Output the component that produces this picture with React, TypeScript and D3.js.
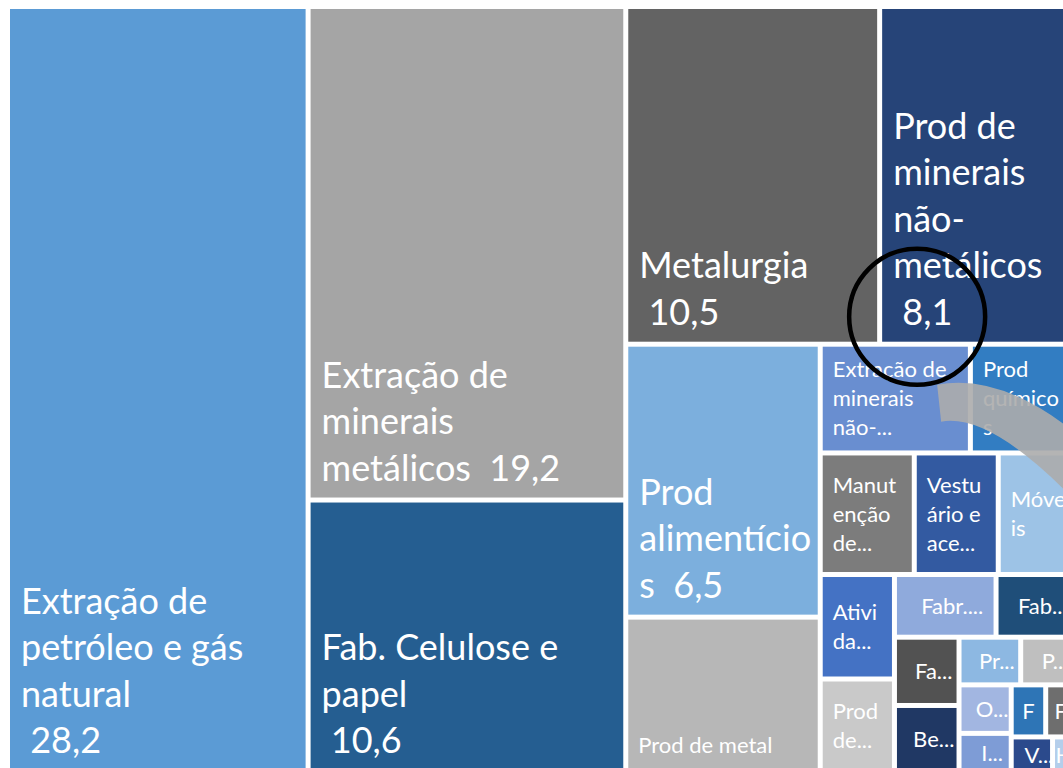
import { useMemo } from 'react';
import * as d3 from 'd3';

// Participação por setor (%), already in the order Excel draws them (largest first).
// "|" breaks a label line, {v} is replaced by the formatted value.
const labels = [
    'Extração de|petróleo e gás|natural| {v}',
    'Extração de|minerais|metálicos  {v}',
    'Fab. Celulose e|papel| {v}',
    'Metalurgia| {v}',
    'Prod de|minerais|não-|metálicos| {v}',
    'Prod|alimentício|s  {v}',
    'Prod de metal',
    'Extração de|minerais|não-...',
    'Prod|químico|s',
    'Manut|enção|de...',
    'Vestu|ário e|ace...',
    'Móve|is',
    'Ativi|da...',
    'Prod|de...',
    'Fabr....',
    'Fab...',
    'Fa...',
    'Be...',
    'Pr...',
    'P...',
    'O...',
    'I...',
    'F',
    'F',
    'V...',
    'H',
];

const values = [
    28.2, 19.2, 10.6, 10.5, 8.1, 6.5, 3.7, 2.0, 1.4, 1.4, 1.25, 1.15, 0.95,
    0.85, 0.78, 0.61, 0.54, 0.53, 0.36, 0.32, 0.31, 0.25, 0.22, 0.19, 0.18, 0.1,
];

const colors = [
    '#5B9BD5', '#A5A5A5', '#255E91', '#636363', '#264478', '#7CAFDD', '#B7B7B7',
    '#698ED0', '#327DC2', '#7C7C7C', '#335AA1', '#9DC3E6', '#4472C4', '#C9C9C9',
    '#8FAADC', '#1F4E79', '#525252', '#203864', '#8DB8E2', '#BFBFBF', '#A2B6E1',
    '#7E9CD6', '#2E75B6', '#6E6E6E', '#2B4A8C', '#B4CEEB',
];

const pageW = 1063;
const pageH = 768;
const box = { left: 10, top: 9, right: 1073, bottom: 770 };

const fmt = (v) => d3.format('.1f')(v).replace('.', ',');

// Excel keeps the biggest sector alone in the first column; the rest is squarified.
function excelTile(node, x0, y0, x1, y1) {
    const [first, ...rest] = node.children;
    const xm = x0 + ((x1 - x0) * first.value) / node.value;
    d3.treemapSlice({ children: [first], value: first.value }, x0, y0, xm, y1);
    d3.treemapSquarify.ratio(1)({ children: rest, value: node.value - first.value }, xm, y0, x1, y1);
}

function Cell({ d }) {
    const big = d.data.value >= 5;
    const fs = big ? 36 : 22;
    const lh = big ? 46.5 : 29;
    const lines = d.data.label.split('|').map((s) => s.replace('{v}', fmt(d.data.value)));
    const n = lines.length;

    let firstBase;
    if (d.data.value >= 3) {
        firstBase = d.y1 - 17 - (n - 1) * lh;
    } else {
        const cy = (d.y0 + d.y1) / 2;
        firstBase = cy - ((n - 1) * lh) / 2 + fs * 0.36;
    }
    const centered = n === 1 && d.data.value < 3;
    const tx = centered
        ? (d.x0 + d.x1) / 2 + (lines[0].endsWith('...') ? 7 : 0)
        : d.x0 + (big ? 11 : 10);

    return (
        <g>
            <rect x={d.x0} y={d.y0} width={d.x1 - d.x0} height={d.y1 - d.y0} fill={d.data.color} />
            <text
                x={tx}
                fill="#fff"
                fontSize={fs}
                textAnchor={centered ? 'middle' : 'start'}
                xmlSpace="preserve"
                style={{ whiteSpace: 'pre' }}
            >
                {lines.map((l, i) => (
                    <tspan key={i} x={tx} y={firstBase + i * lh}>
                        {l}
                    </tspan>
                ))}
            </text>
        </g>
    );
}

export default function App() {
    const leaves = useMemo(() => {
        const root = d3
            .hierarchy({
                children: labels.map((label, i) => ({ label, value: values[i], color: colors[i] })),
            })
            .sum((d) => d.value ?? 0);
        d3.treemap()
            .size([box.right - box.left, box.bottom - box.top])
            .paddingInner(5)
            .tile(excelTile)(root);
        return root.leaves();
    }, []);

    // annotation: ring around the 8,1 value and the gray curved arrow
    const hl = leaves[4];
    const cx = hl.x0 + box.left + 35;
    const cy = hl.y1 + box.top - 25;
    const arrow = `M${cx + 20},${cy + 68} Q${cx + 83},${cy + 56} ${cx + 158},${cy + 116}
        L${cx + 158},${cy + 184} Q${cx + 73},${cy + 96} ${cx + 24},${cy + 105} Z`;

    return (
        <svg
            width={pageW}
            height={pageH}
            style={{ position: 'absolute', left: 0, top: 0, background: '#fff' }}
            fontFamily="Lato, 'Open Sans', sans-serif"
        >
            <g transform={`translate(${box.left},${box.top})`}>
                {leaves.map((d, i) => (
                    <Cell key={i} d={d} />
                ))}
            </g>
            <path d={arrow} fill="#ACACAC" fillOpacity={0.9} />
            <circle cx={cx} cy={cy} r={68} fill="none" stroke="#000" strokeWidth={4.5} />
        </svg>
    );
}
